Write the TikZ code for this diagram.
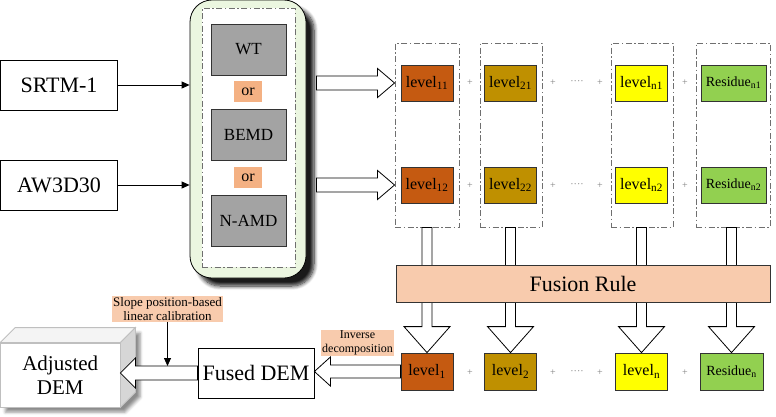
\documentclass[tikz,border=0pt]{standalone}
\usepackage{fontspec}
\setmainfont{Liberation Serif}
\usetikzlibrary{arrows.meta,calc,shadows.blur}
\definecolor{lvA}{HTML}{C55A11}
\definecolor{lvB}{HTML}{BF9000}
\definecolor{lvC}{HTML}{FFFF00}
\definecolor{lvD}{HTML}{92D050}
\definecolor{methodgray}{HTML}{A3A3A3}
\definecolor{orfill}{HTML}{F4B183}
\definecolor{labfill}{HTML}{F8CBAD}
\definecolor{greenfill}{HTML}{EBF6E0}
\definecolor{dashgray}{HTML}{6F6F6F}
\definecolor{textgray}{HTML}{808080}
\definecolor{topfill}{HTML}{F4F4F4}
\definecolor{sidefill}{HTML}{D6D6D6}
\definecolor{edgegray}{HTML}{BFBFBF}
\newcommand\hollowH[5]{%
  \draw[hollowline] let \p1=(#1), \p2=(#2), \n1={(\x2-\x1)/abs(\x2-\x1)} in
    (\x1,{\y1+#3pt}) -- ({\x2-(\n1)*#5pt},{\y1+#3pt}) -- ({\x2-(\n1)*#5pt},{\y1+#4pt}) -- (\x2,\y1)
    -- ({\x2-(\n1)*#5pt},{\y1-#4pt}) -- ({\x2-(\n1)*#5pt},{\y1-#3pt}) -- (\x1,{\y1-#3pt}) -- cycle;}
\newcommand\hollowV[5]{%
  \draw[hollowline] let \p1=(#1), \p2=(#2), \n1={(\y2-\y1)/abs(\y2-\y1)} in
    ({\x1+#3pt},\y1) -- ({\x1+#3pt},{\y2-(\n1)*#5pt}) -- ({\x1+#4pt},{\y2-(\n1)*#5pt}) -- (\x1,\y2)
    -- ({\x1-#4pt},{\y2-(\n1)*#5pt}) -- ({\x1-#3pt},{\y2-(\n1)*#5pt}) -- ({\x1-#3pt},\y1) -- cycle;}
\tikzset{
  conn/.style={draw=black, line width=0.8pt, -{Triangle[length=8pt,width=7pt]}},
  hollowline/.style={draw=black, line width=0.8pt, fill=white, line join=miter},
  inbox/.style={draw=black, line width=0.8pt, fill=white, minimum width=116pt, minimum height=50pt, inner sep=0pt, font=\fontsize{22}{24}\selectfont},
  greenbox/.style={draw=black, line width=0.8pt, fill=greenfill, rounded corners=22pt, minimum width=116pt, minimum height=278pt,
    blur shadow={shadow xshift=8pt, shadow yshift=-8pt, shadow blur radius=4pt, shadow blur steps=8, shadow opacity=90}},
  dashdotline/.style={draw=dashgray, line width=0.9pt, dash pattern=on 6pt off 2.5pt on 1.5pt off 2.5pt},
  innerdash/.style={dashdotline, fill=white, minimum width=93pt, minimum height=259pt},
  method/.style={draw=black!80, line width=0.8pt, fill=methodgray, minimum width=75pt, minimum height=51pt, inner sep=0pt, font=\fontsize{17}{20}\selectfont},
  orbox/.style={fill=orfill, minimum width=28pt, minimum height=21pt, inner sep=0pt, font=\fontsize{16}{18}\selectfont},
  colbox/.style={dashdotline, fill=white, minimum height=184pt, inner sep=0pt},
  lvbox/.style={draw=black!80, line width=0.8pt, minimum width=52pt, minimum height=36pt, inner sep=0pt, font=\fontsize{16}{18}\selectfont},
  resbox/.style={lvbox, fill=lvD, minimum width=65pt, font=\fontsize{14}{16}\selectfont},
  plussign/.style={text=textgray, font=\fontsize{10}{12}\selectfont, inner sep=0pt},
  fusion/.style={draw=black!80, line width=0.8pt, fill=labfill, minimum width=374pt, minimum height=37pt, inner sep=0pt, font=\fontsize{22}{24}\selectfont},
  lab/.style={fill=labfill, inner sep=1pt, align=center},
}
\begin{document}
\begin{tikzpicture}[x=1pt,y=-1pt]
\useasboundingbox (0,0) rectangle (776,416);

% inputs
\node[inbox, minimum width=117pt] (srtm) at (59,85) {SRTM-1};
\node[inbox, minimum width=117pt] (aw) at (59,185) {AW3D30};

% decomposition methods
\node[greenbox] (green) at (248,139) {};
\node[innerdash] (inner) at (248.5,137.5) {};
\node[method] (wt) at (248.5,49.5) {WT};
\node[orbox] (or1) at (248,91.5) {or};
\node[method] (bemd) at (248.5,134.5) {BEMD};
\node[orbox] (or2) at (248,177.5) {or};
\node[method] (namd) at (248.5,220.5) {N-AMD};

\draw[conn] (srtm.east) -- (srtm.east -| green.west);
\draw[conn] (aw.east) -- (aw.east -| green.west);

% columns
\node[colbox, minimum width=64pt] (c1) at (427,135) {};
\node[colbox, minimum width=62pt] (c2) at (511,135) {};
\node[colbox, minimum width=62pt] (c3) at (642,135) {};
\node[colbox, minimum width=74pt] (c4) at (733,135) {};

\node[lvbox, fill=lvA] (l11) at (427,83) {level\textsubscript{11}};
\node[lvbox, fill=lvB] (l21) at (510.5,83) {level\textsubscript{21}};
\node[lvbox, fill=lvC] (ln1) at (641.5,83) {level\textsubscript{n1}};
\node[resbox] (r1) at (733.5,83) {Residue\textsubscript{n1}};
\node[lvbox, fill=lvA] (l12) at (427,185) {level\textsubscript{12}};
\node[lvbox, fill=lvB] (l22) at (510.5,185) {level\textsubscript{22}};
\node[lvbox, fill=lvC] (ln2) at (641.5,185) {level\textsubscript{n2}};
\node[resbox] (r2) at (733.5,185) {Residue\textsubscript{n2}};

\foreach \r/\yy in {a/83, b/185.5, c/373} {
  \node[plussign] (p1\r) at (470,\yy) {+};
  \node[plussign] (p2\r) at (553,\yy) {+};
  \node[plussign] (d\r) at (577,\yy) {····};
  \node[plussign] (p3\r) at (600,\yy) {+};
  \node[plussign] (p4\r) at (685,\yy) {+};
}

% hollow arrows to columns
\coordinate (t1) at ($(green.east |- l11)+(10,0)$);
\coordinate (t2) at ($(green.east |- l12)+(10,0)$);
\hollowH{t1}{c1.west |- l11}{7}{14.5}{17}
\hollowH{t2}{c1.west |- l12}{7}{14.5}{17}

% bottom row
\node[lvbox, fill=lvA, minimum height=37pt] (b1) at (427,371.5) {level\textsubscript{1}};
\node[lvbox, fill=lvB, minimum height=37pt] (b2) at (510.5,371.5) {level\textsubscript{2}};
\node[lvbox, fill=lvC, minimum height=37pt] (b3) at (641.5,371.5) {level\textsubscript{n}};
\node[resbox, minimum width=63pt, minimum height=37pt] (b4) at (731.5,371.5) {Residue\textsubscript{n}};

\hollowV{c1.south}{b1.north}{5}{23}{26}
\hollowV{c2.south -| b2}{b2.north}{5}{23}{26}
\hollowV{c3.south -| b3}{b3.north}{5}{23}{26}
\hollowV{c4.south -| b4}{b4.north}{5}{23}{26}

\node[fusion] (fr) at (583,283.5) {Fusion Rule};

% fused DEM
\node[inbox] (fused) at (256,373) {Fused DEM};
\node[lab, font=\fontsize{12}{14}\selectfont] (inv) at (357.5,343) {Inverse\\decomposition};
\hollowH{b1.west}{fused.east}{6.5}{14.5}{16}

% adjusted DEM (3D box)
\path[fill=white, blur shadow={shadow xshift=5pt, shadow yshift=-5pt, shadow blur radius=3pt, shadow opacity=45}]
  (0.5,407) -- (120,407) -- (135,392) -- (135,328) -- (15.5,328) -- (0.5,343) -- cycle;
\node[draw=edgegray, line width=0.8pt, fill=white, minimum width=119.5pt, minimum height=64pt, inner sep=0pt, align=center,
  font=\fontsize{21}{24}\selectfont] (adj) at (60.25,375) {Adjusted\\DEM};
\draw[draw=edgegray, line width=0.8pt, fill=topfill] (adj.north west) -- ++(15,-15) -- ($(adj.north east)+(15,-15)$) -- (adj.north east) -- cycle;
\draw[draw=edgegray, line width=0.8pt, fill=sidefill] (adj.north east) -- ++(15,-15) -- ($(adj.south east)+(15,-15)$) -- (adj.south east) -- cycle;

\hollowH{fused.west}{adj.east}{7}{15}{15}

\node[lab, font=\fontsize{13}{14}\selectfont] (slope) at (167.5,309) {Slope position-based\\linear calibration};
\coordinate (cal) at ($(slope.south |- fused.west)+(0,-7)$);
\draw[conn] (slope.south) -- (cal);
\end{tikzpicture}
\end{document}
